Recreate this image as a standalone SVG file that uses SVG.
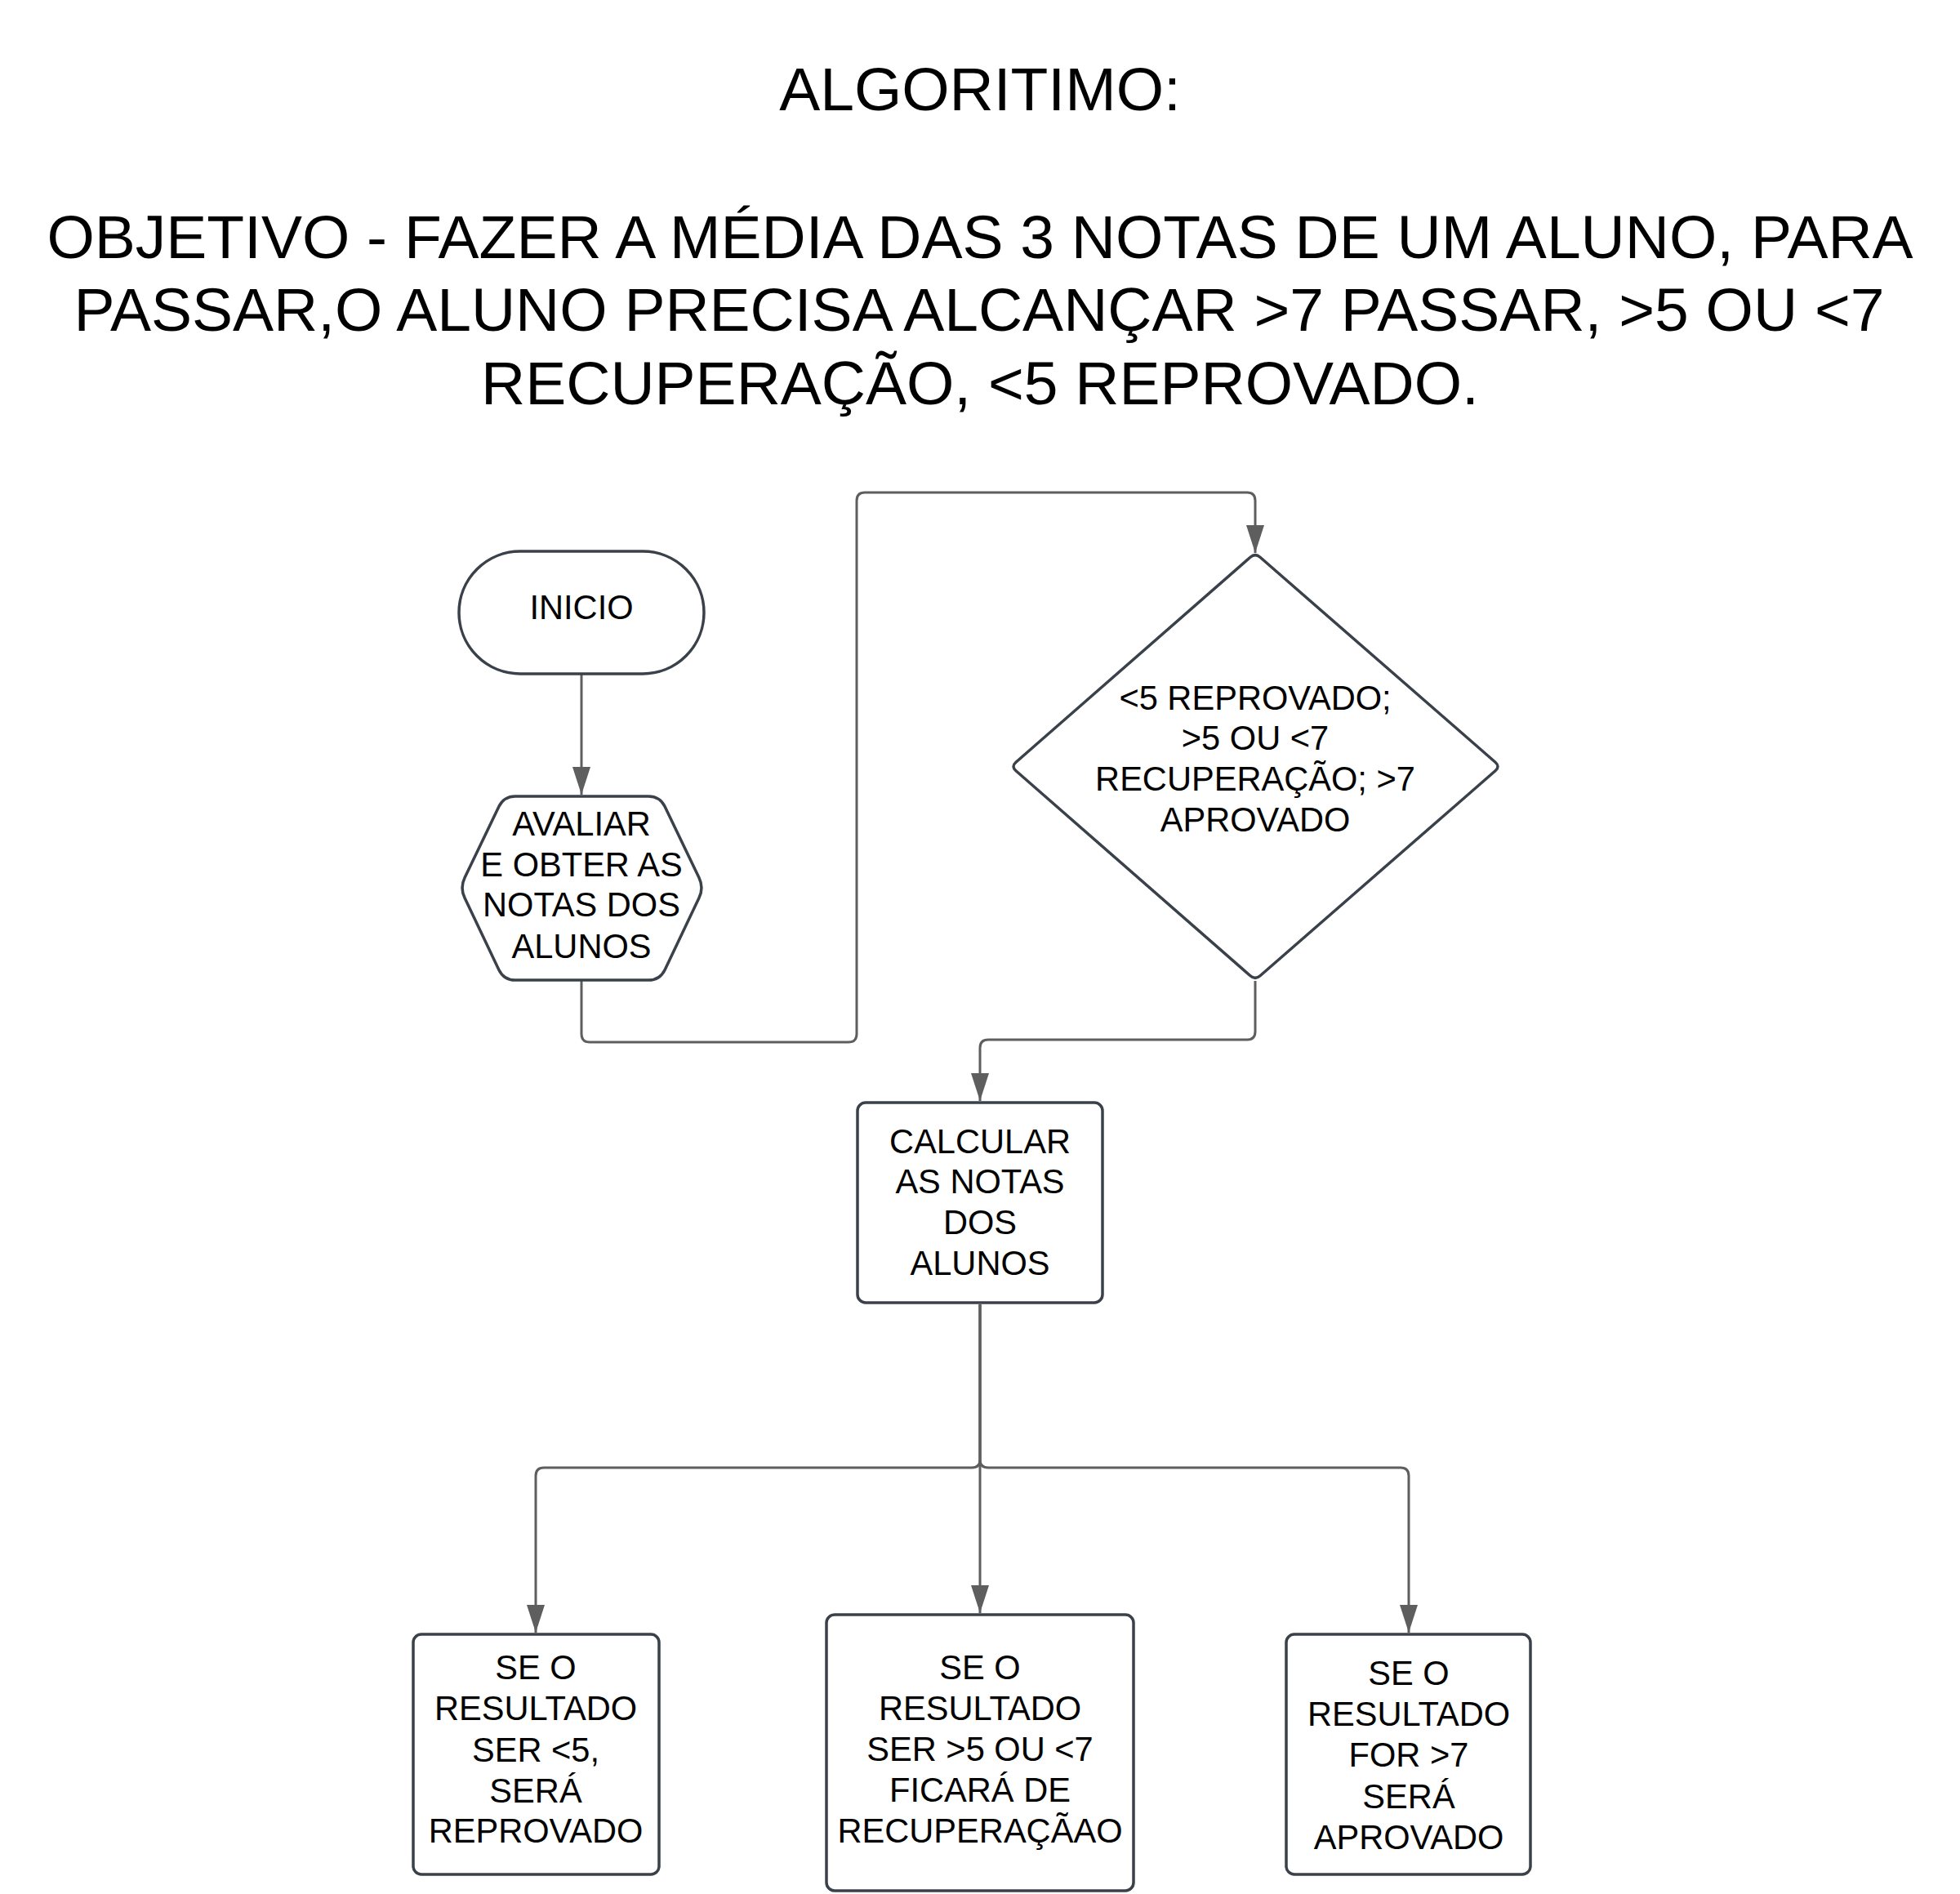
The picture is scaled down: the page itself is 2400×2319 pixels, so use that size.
<svg xmlns="http://www.w3.org/2000/svg" width="2400" height="2319" viewBox="0 0 2400 2319">
<style>
.t{font-family:"Liberation Sans",Arial,sans-serif;fill:#000;text-anchor:middle}
.big{font-size:75px}
.n{font-size:41.6px}
.shape{fill:#fff;stroke:#3a414a;stroke-width:3.5}
.c{fill:none;stroke:#5e5e5e;stroke-width:3;marker-end:url(#ah)}
</style>
<defs>
<marker id="ah" markerUnits="userSpaceOnUse" markerWidth="34" markerHeight="22" refX="34" refY="11" orient="auto">
<path d="M0,0 L34,11 L0,22 z" fill="#5e5e5e"/>
</marker>
</defs>
<rect width="2400" height="2319" fill="#fff"/>
<g id="title">
<text class="t big" x="1200" y="135">ALGORITIMO:</text>
<text class="t big" x="1200" y="316">OBJETIVO - FAZER A MÉDIA DAS 3 NOTAS DE UM ALUNO, PARA</text>
<text class="t big" x="1199" y="405">PASSAR,O ALUNO PRECISA ALCANÇAR &gt;7 PASSAR, &gt;5 OU &lt;7</text>
<text class="t big" x="1200" y="495">RECUPERAÇÃO, &lt;5 REPROVADO.</text>
</g>
<g id="connectors">
<path class="c" d="M712,826 L712,973"/>
<path class="c" d="M712,1201 L712,1266 Q712,1276 722,1276 L1039,1276 Q1049,1276 1049,1266 L1049,613 Q1049,603 1059,603 L1527,603 Q1537,603 1537,613 L1537,677"/>
<path class="c" d="M1537,1201 L1537,1263 Q1537,1273 1527,1273 L1210,1273 Q1200,1273 1200,1283 L1200,1348"/>
<path class="c" d="M1200,1597 L1200,1787 Q1200,1797 1190,1797 L666,1797 Q656,1797 656,1807 L656,1999"/>
<path class="c" d="M1200,1597 L1200,1975"/>
<path class="c" d="M1200,1597 L1200,1787 Q1200,1797 1210,1797 L1715,1797 Q1725,1797 1725,1807 L1725,1999"/>
</g>
<g id="inicio">
<rect class="shape" x="562" y="675" width="300" height="150" rx="75" ry="75"/>
<text class="t n" x="712" y="758">INICIO</text>
</g>
<g id="avaliar">
<path class="shape" d="M631,975 L794,975 Q808,975 814.1,987.6 L855.9,1074.4 Q862,1087 855.9,1099.6 L814.1,1187.4 Q808,1200 794,1200 L631,1200 Q617,1200 610.9,1187.4 L569.1,1099.6 Q563,1087 569.1,1074.4 L610.9,987.6 Q617,975 631,975 Z"/>
<text class="t n" x="712" y="1023">AVALIAR</text>
<text class="t n" x="712" y="1073">E OBTER AS</text>
<text class="t n" x="712" y="1122">NOTAS DOS</text>
<text class="t n" x="712" y="1173">ALUNOS</text>
</g>
<g id="decisao">
<path class="shape" d="M1543,682.3 L1831,933.2 Q1837,938.5 1831,943.8 L1543,1194.7 Q1537,1200 1531,1194.7 L1244,943.8 Q1238,938.5 1244,933.2 L1531,682.3 Q1537,677 1543,682.3 Z"/>
<text class="t n" x="1537" y="869">&lt;5 REPROVADO;</text>
<text class="t n" x="1537" y="918">&gt;5 OU &lt;7</text>
<text class="t n" x="1537" y="968">RECUPERAÇÃO; &gt;7</text>
<text class="t n" x="1537" y="1018">APROVADO</text>
</g>
<g id="calcular">
<rect class="shape" x="1050" y="1350" width="300" height="245" rx="10"/>
<text class="t n" x="1200" y="1412">CALCULAR</text>
<text class="t n" x="1200" y="1461">AS NOTAS</text>
<text class="t n" x="1200" y="1511">DOS</text>
<text class="t n" x="1200" y="1561">ALUNOS</text>
</g>
<g id="reprovado">
<rect class="shape" x="506" y="2001" width="301" height="294" rx="10"/>
<text class="t n" x="656" y="2056">SE O</text>
<text class="t n" x="656" y="2106">RESULTADO</text>
<text class="t n" x="656" y="2157">SER &lt;5,</text>
<text class="t n" x="656" y="2207">SERÁ</text>
<text class="t n" x="656" y="2256">REPROVADO</text>
</g>
<g id="recuperacao">
<rect class="shape" x="1012" y="1977" width="376" height="338" rx="10"/>
<text class="t n" x="1200" y="2056">SE O</text>
<text class="t n" x="1200" y="2106">RESULTADO</text>
<text class="t n" x="1200" y="2156">SER &gt;5 OU &lt;7</text>
<text class="t n" x="1200" y="2206">FICARÁ DE</text>
<text class="t n" x="1200" y="2256">RECUPERAÇÃAO</text>
</g>
<g id="aprovado">
<rect class="shape" x="1575" y="2001" width="299" height="294" rx="10"/>
<text class="t n" x="1725" y="2063">SE O</text>
<text class="t n" x="1725" y="2113">RESULTADO</text>
<text class="t n" x="1725" y="2163">FOR &gt;7</text>
<text class="t n" x="1725" y="2214">SERÁ</text>
<text class="t n" x="1725" y="2264">APROVADO</text>
</g>
</svg>
